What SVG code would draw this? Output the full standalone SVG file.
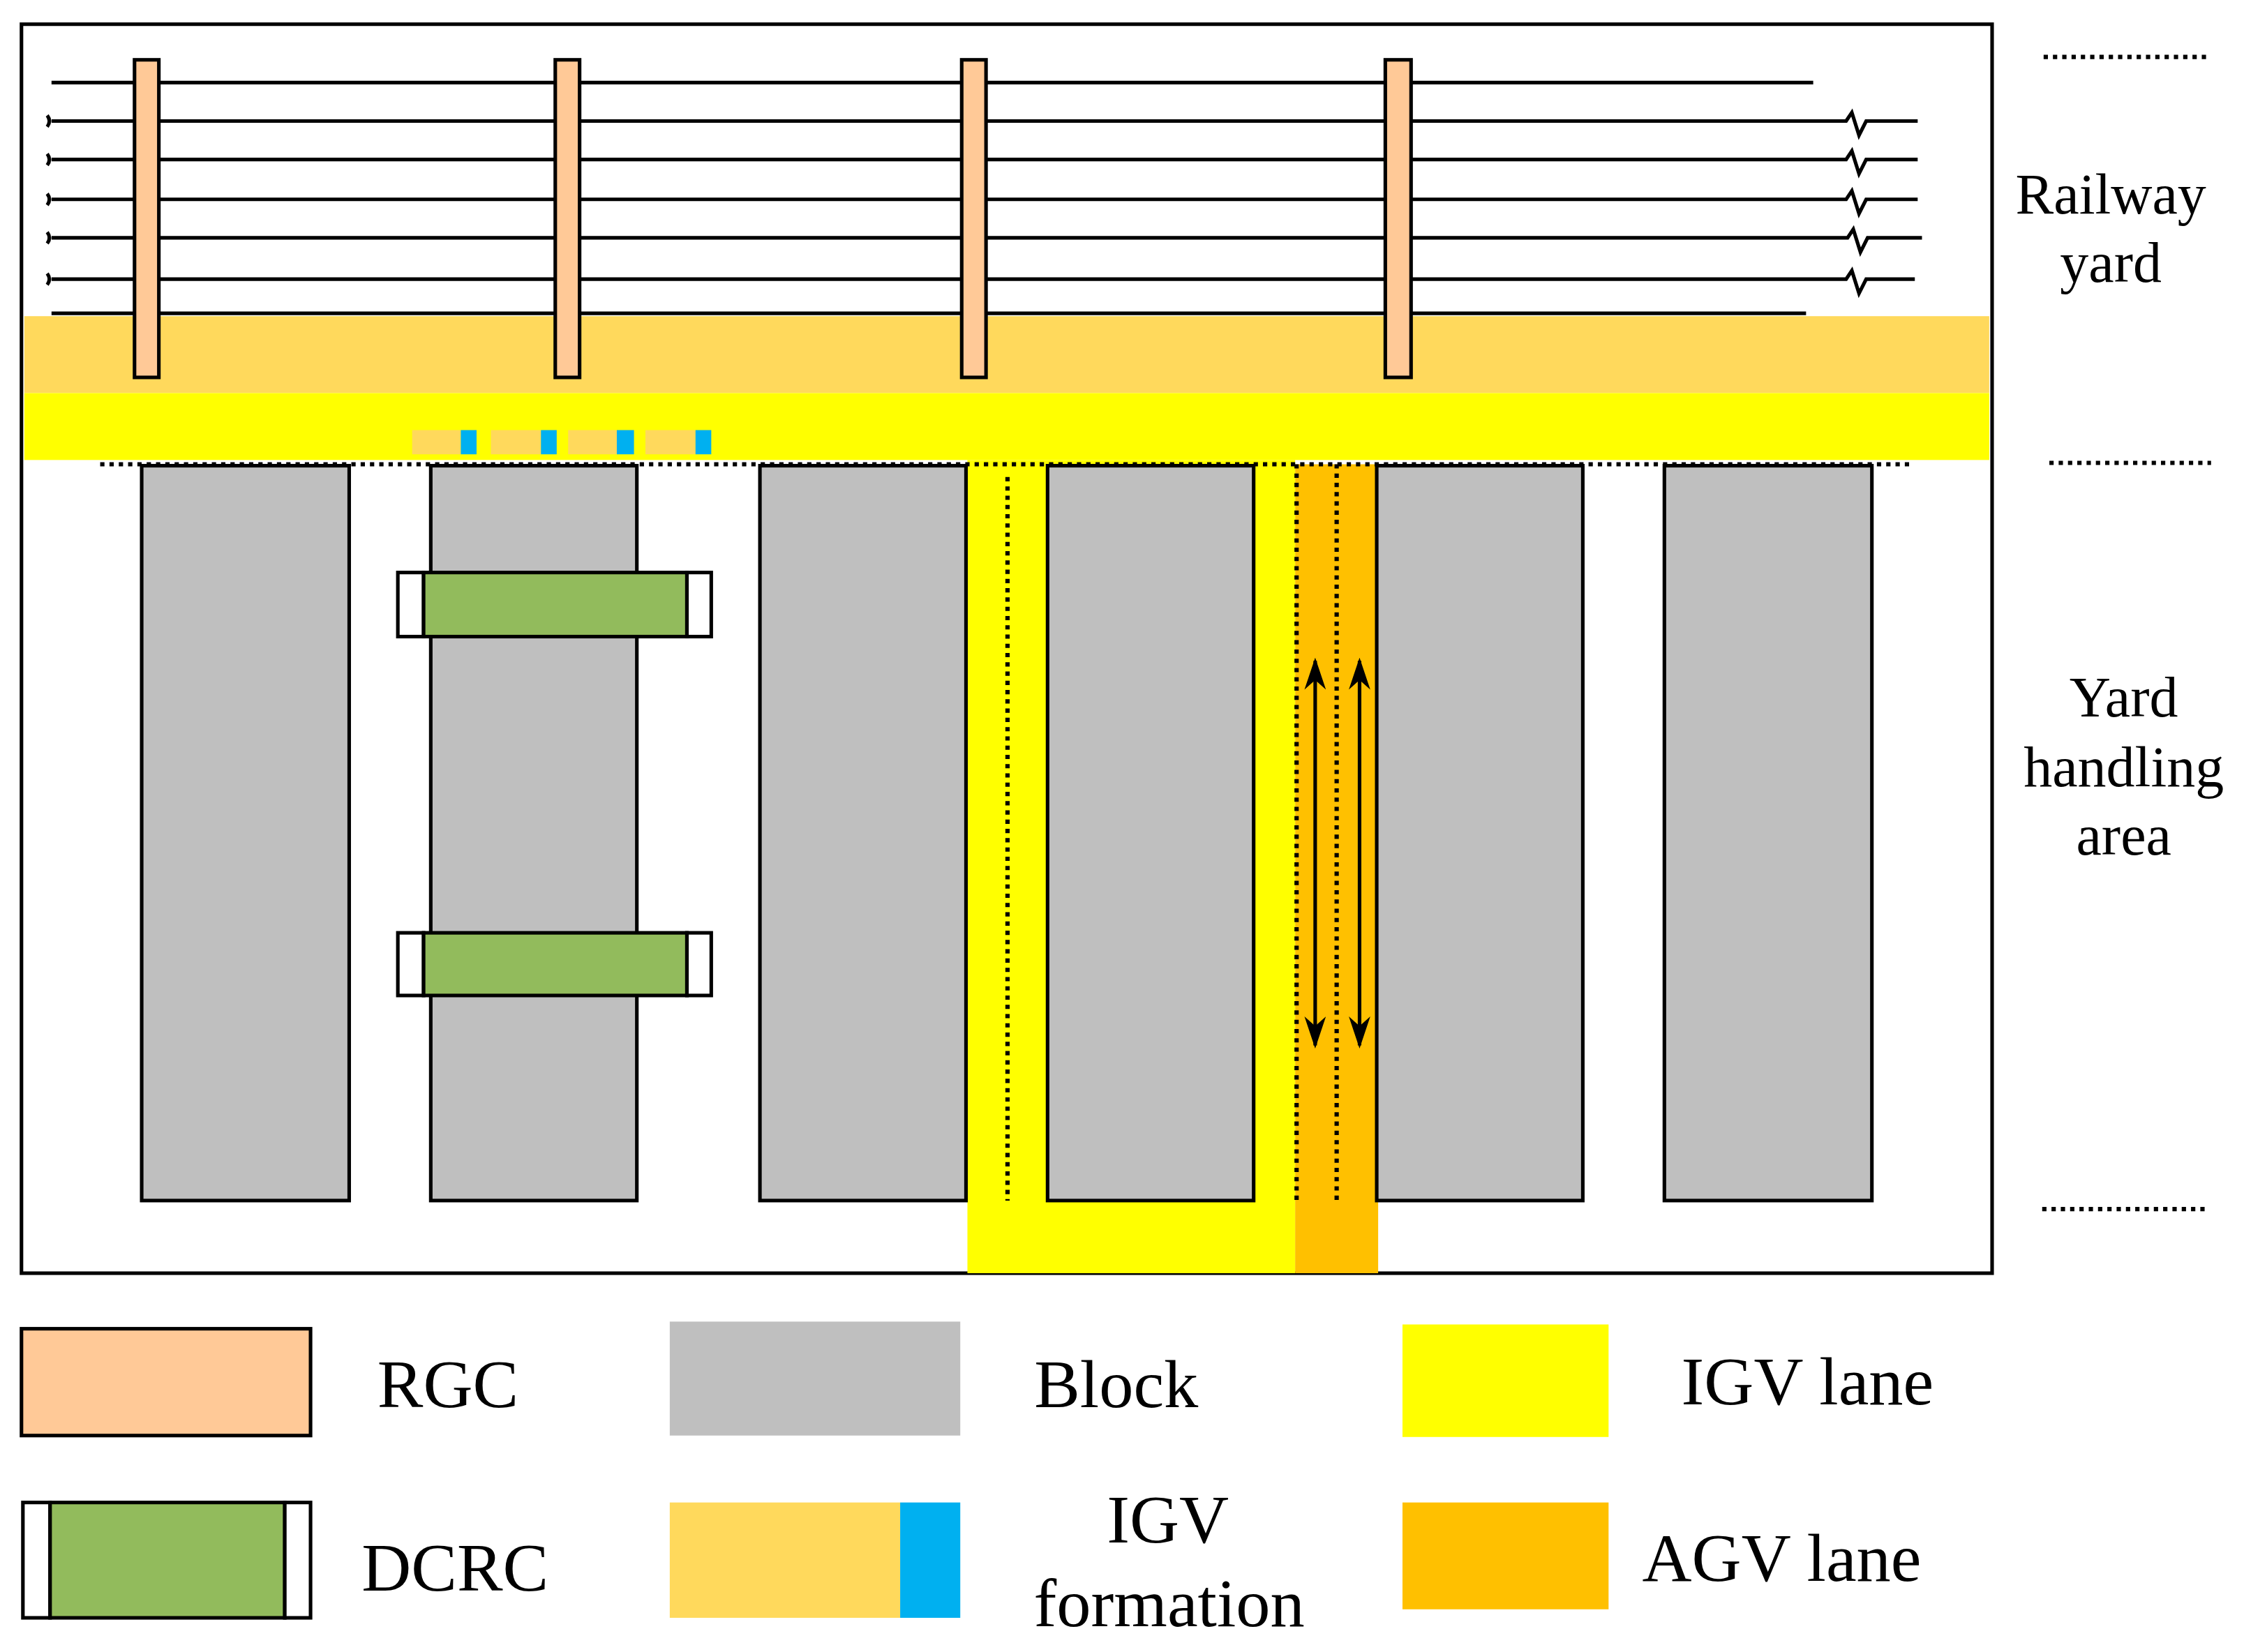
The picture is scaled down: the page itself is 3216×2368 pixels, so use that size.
<svg xmlns="http://www.w3.org/2000/svg" width="3216" height="2368" viewBox="0 0 3216 2368">
<style>
.t{font-family:"Liberation Serif",serif;fill:#000;text-anchor:middle}
.k{stroke:#000;stroke-width:2.5;fill:none}
.d{stroke:#000;stroke-width:3;stroke-dasharray:3,3.5;fill:none}
.rgc{fill:#FFC997;stroke:#000;stroke-width:2.5}
.blk{fill:#BFBFBF;stroke:#000;stroke-width:2.5}
.g{fill:#92BB5C;stroke:#000;stroke-width:2.5}
.w{fill:#fff;stroke:#000;stroke-width:2.5}
</style>
<defs><marker id="a" viewBox="0 0 10 10" refX="9" refY="5" markerWidth="9" markerHeight="6" orient="auto-start-reverse" preserveAspectRatio="none"><path d="M0,0L10,5L0,10L3,5z" fill="#000"/></marker></defs>
<rect width="3216" height="2368" fill="#fff"/>
<g transform="scale(2.051,2.0414)">
<g id="frame"><rect x="15" y="17" width="1377" height="877" class="k"/></g>
<g id="bands">
<rect x="17" y="222" width="1373" height="54" fill="#FFD95C"/>
<rect x="17" y="276" width="1373" height="47" fill="#FFFF00"/>
<rect x="676" y="323" width="229" height="571" fill="#FFFF00"/>
<rect x="905" y="326" width="58" height="568" fill="#FFC000"/>
</g>
<g id="rails" class="k">
<path d="M36 58H1267"/><path d="M36 220H1262"/>
<path d="M36 85H1290l4-6 5 16 5-10H1340"/>
<path d="M36 112H1290l4-6 5 16 5-10H1340"/>
<path d="M36 140H1290l4-6 5 16 5-10H1340"/>
<path d="M36 167H1291l4-6 5 16 5-10H1343"/>
<path d="M36 196H1290l4-6 5 16 5-10H1338"/>
<path d="M33 81q3 4 0 8M33 108q3 4 0 8M33 136q3 4 0 8M33 163q3 4 0 8M33 192q3 4 0 8"/>
</g>
<g id="rgc">
<rect x="94" y="42" width="17" height="223" class="rgc"/>
<rect x="388" y="42" width="17" height="223" class="rgc"/>
<rect x="672" y="42" width="17" height="223" class="rgc"/>
<rect x="968" y="42" width="18" height="223" class="rgc"/>
</g>
<g id="formation">
<rect x="288" y="302" width="34" height="17" fill="#FFD95C"/><rect x="322" y="302" width="11" height="17" fill="#00B0F0"/>
<rect x="343" y="302" width="35" height="17" fill="#FFD95C"/><rect x="378" y="302" width="11" height="17" fill="#00B0F0"/>
<rect x="397" y="302" width="34" height="17" fill="#FFD95C"/><rect x="431" y="302" width="12" height="17" fill="#00B0F0"/>
<rect x="451" y="302" width="35" height="17" fill="#FFD95C"/><rect x="486" y="302" width="11" height="17" fill="#00B0F0"/>
</g>
<g id="blocks">
<path class="d" d="M70 326H1335"/>
<rect x="99" y="327" width="145" height="516" class="blk"/>
<rect x="301" y="327" width="144" height="516" class="blk"/>
<rect x="531" y="327" width="144" height="516" class="blk"/>
<rect x="732" y="327" width="144" height="516" class="blk"/>
<rect x="962" y="327" width="144" height="516" class="blk"/>
<rect x="1163" y="327" width="145" height="516" class="blk"/>
</g>
<g id="dcrc">
<rect x="278" y="402" width="18" height="45" class="w"/><rect x="296" y="402" width="184" height="45" class="g"/><rect x="480" y="402" width="17" height="45" class="w"/>
<rect x="278" y="655" width="18" height="44" class="w"/><rect x="296" y="655" width="184" height="44" class="g"/><rect x="480" y="655" width="17" height="44" class="w"/>
</g>
<g id="connectors">
<path class="d" d="M704 335V843M906 326V843M934 326V843"/>
<path class="k" d="M919 464V734" marker-start="url(#a)" marker-end="url(#a)"/>
<path class="k" d="M950 464V734" marker-start="url(#a)" marker-end="url(#a)"/>
<path class="d" d="M1428 40H1543M1432 325H1545M1427 849H1543"/>
</g>
<g id="labels">
<text class="t" x="1475" y="150" font-size="40">Railway</text>
<text class="t" x="1475" y="198" font-size="40">yard</text>
<text class="t" x="1484" y="503" font-size="40">Yard</text>
<text class="t" x="1484" y="552" font-size="40">handling</text>
<text class="t" x="1484" y="600" font-size="40">area</text>
</g>
<g id="legend">
<rect x="15" y="933" width="202" height="75" class="rgc"/>
<text class="t" x="313" y="988" font-size="48">RGC</text>
<rect x="468" y="928" width="203" height="80" fill="#BFBFBF"/>
<text class="t" x="780" y="988" font-size="48">Block</text>
<rect x="980" y="930" width="144" height="79" fill="#FFFF00"/>
<text class="t" x="1263" y="986" font-size="48">IGV lane</text>
<rect x="16" y="1055" width="19" height="81" class="w"/><rect x="35" y="1055" width="164" height="81" class="g"/><rect x="199" y="1055" width="18" height="81" class="w"/>
<text class="t" x="318" y="1117" font-size="48">DCRC</text>
<rect x="468" y="1055" width="161" height="81" fill="#FFD95C"/><rect x="629" y="1055" width="42" height="81" fill="#00B0F0"/>
<text class="t" x="816" y="1083" font-size="48">IGV</text>
<text class="t" x="817" y="1142" font-size="48">formation</text>
<rect x="980" y="1055" width="144" height="75" fill="#FFC000"/>
<text class="t" x="1245" y="1110" font-size="48">AGV lane</text>
</g>
</g>
</svg>
